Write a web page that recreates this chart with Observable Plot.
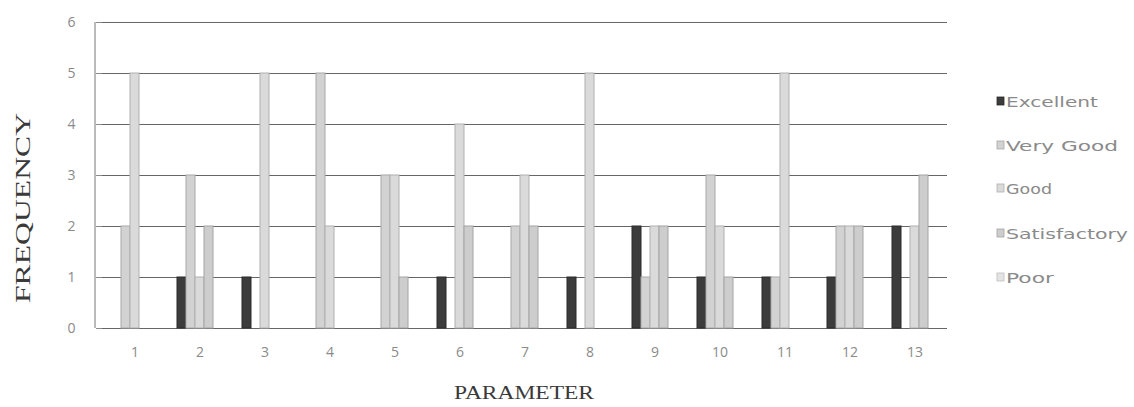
<!DOCTYPE html>
<html><head><meta charset="utf-8">
<script src="https://cdn.jsdelivr.net/npm/d3@7"></script>
<script src="https://cdn.jsdelivr.net/npm/@observablehq/plot@0.6"></script>
<style>body{margin:0;background:#fff}#chart{width:1134px;height:407px}</style>
</head><body><div id="chart"></div>
<script>
const parameters = [1,2,3,4,5,6,7,8,9,10,11,12,13];
const categories = ["Excellent","Very Good","Good","Satisfactory","Poor"];
const excellent    = [0,1,1,0,0,1,0,1,2,1,1,1,2];
const veryGood     = [2,3,0,5,3,0,2,0,1,3,1,2,0];
const good         = [5,1,5,2,3,4,3,5,2,2,5,2,2];
const satisfactory = [0,2,0,0,1,2,2,0,2,1,0,2,3];
const poor         = [0,0,0,0,0,0,0,0,0,0,0,0,0];
const yTicks = [0,1,2,3,4,5,6];
const colors = ["#3c3c3c","#d2d2d2","#dadada","#cdcdcd","#e4e4e4"];
const strokes = ["#2a2a2a","#a8a8a8","#b0b0b0","#a4a4a4","#bdbdbd"];

const series = [excellent, veryGood, good, satisfactory, poor];
const data = [];
parameters.forEach((p, i) => categories.forEach((c, j) => {
  if (series[j][i] > 0) data.push({parameter: p, category: c, value: series[j][i]});
}));

const plot = Plot.plot({
  width: 1134, height: 407,
  marginLeft: 97, marginRight: 183, marginTop: 22, marginBottom: 79,
  style: {background: "#fff", fontFamily: "'Open Sans', sans-serif", fontSize: "14px", color: "#8a8a8a"},
  fx: {domain: parameters, padding: 0, label: null, axis: "bottom", tickSize: 0, tickPadding: 19},
  x: {domain: categories, axis: null, paddingInner: 0, paddingOuter: 0.95},
  y: {domain: [0, 6], ticks: yTicks, tickFormat: d3.format("d"), label: null, tickSize: 6, tickPadding: 21},
  color: {domain: categories, range: colors},
  marks: [
    Plot.ruleY(yTicks, {stroke: "#666", strokeWidth: 1}),
    Plot.barY(data, {fx: "parameter", x: "category", y: "value", fill: "category",
      stroke: d => strokes[categories.indexOf(d.category)], strokeWidth: 1, inset: 0})
  ]
});

const svg = d3.select(plot);
const ys = plot.scale("y");
const y0 = ys.apply(0), y6 = ys.apply(6);
// y axis line
svg.append("line").attr("x1", 95).attr("x2", 95).attr("y1", y6).attr("y2", y0)
  .attr("stroke", "#777").attr("stroke-width", 1);

// axis titles
svg.append("text").text("FREQUENCY")
  .attr("transform", "translate(30,208) rotate(-90)")
  .attr("text-anchor", "middle")
  .attr("font-family", "'Liberation Serif', serif").attr("font-size", 21)
  .attr("fill", "#3a3a3a")
  .attr("textLength", 190).attr("lengthAdjust", "spacingAndGlyphs");
svg.append("text").text("PARAMETER")
  .attr("x", 524).attr("y", 399)
  .attr("text-anchor", "middle")
  .attr("font-family", "'Liberation Serif', serif").attr("font-size", 18)
  .attr("fill", "#3a3a3a")
  .attr("textLength", 140).attr("lengthAdjust", "spacingAndGlyphs");

// legend
const legendY = [102, 146, 189, 234, 278];
const legendW = [92, 112, 46, 122, 48];
categories.forEach((c, i) => {
  const g = svg.append("g").attr("transform", `translate(997,${legendY[i]})`);
  g.append("rect").attr("x", 0).attr("y", -5).attr("width", 7).attr("height", 8)
    .attr("fill", colors[i]).attr("stroke", strokes[i]).attr("stroke-width", 0.8);
  g.append("text").text(c).attr("x", 9).attr("y", 0).attr("dy", "0.35em")
    .attr("text-anchor", "start")
    .attr("font-family", "'DejaVu Sans', sans-serif").attr("font-size", 14)
    .attr("fill", "#8a8a8a")
    .attr("textLength", legendW[i]).attr("lengthAdjust", "spacingAndGlyphs");
});

document.getElementById("chart").appendChild(plot);
</script>
</body></html>
